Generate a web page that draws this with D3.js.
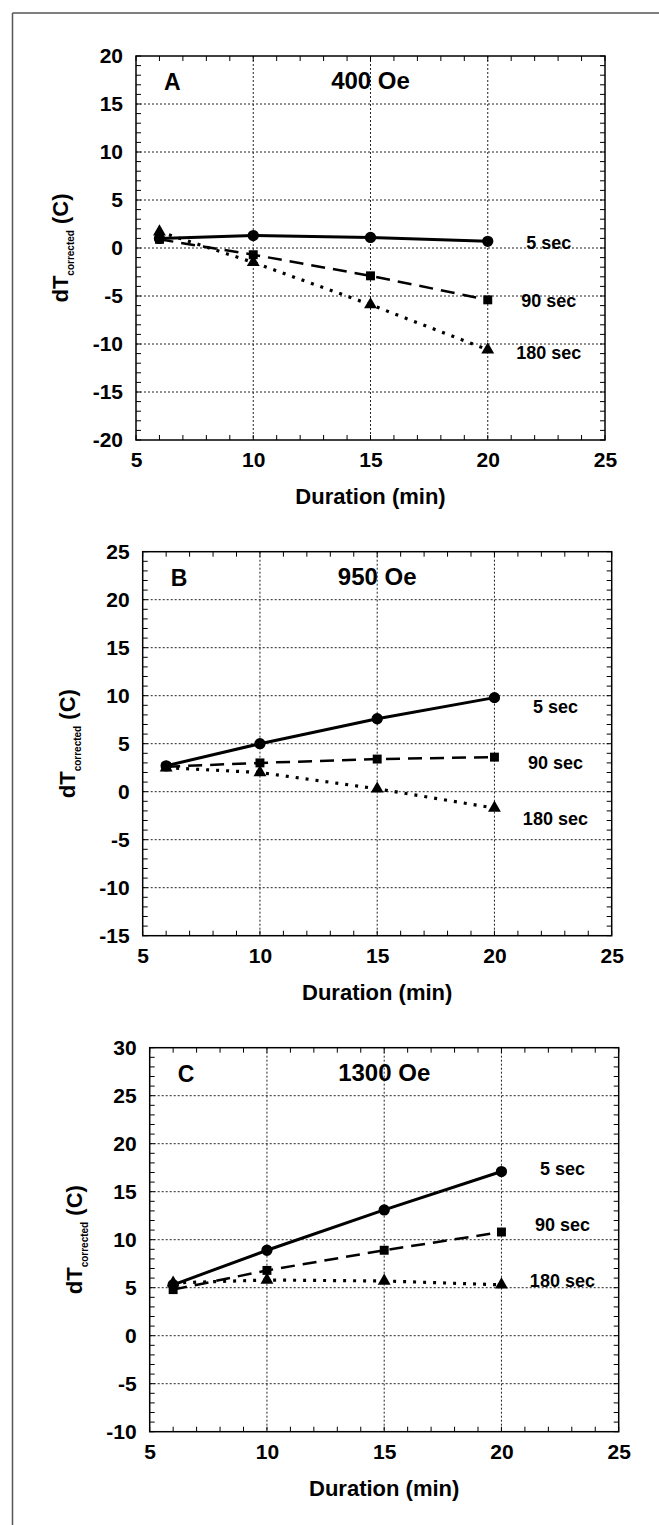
<!DOCTYPE html>
<html lang="en">
	<head>
		<meta charset="utf-8">
		<title>dT corrected vs duration</title>
		<script type="text/javascript" src="https://cdn.jsdelivr.net/npm/d3@7"></script>
		<style type="text/css">
			body { margin: 0; background: #fff; }
			text { font-family: "Liberation Sans", Arial, sans-serif; font-weight: bold; fill: #000; }
		</style>
	</head>
	<body>
		<script type="text/javascript">

			//Data
			var durations = [6, 10, 15, 20];
			var seriesNames = ["5 sec", "90 sec", "180 sec"];
			var fields = ["400 Oe", "950 Oe", "1300 Oe"];
			var panelLetters = ["A", "B", "C"];

			var valuesA = [
				[1.0, 1.3, 1.1, 0.7],
				[0.9, -0.7, -2.9, -5.4],
				[1.7, -1.5, -5.9, -10.6]
			];
			var valuesB = [
				[2.7, 5.0, 7.6, 9.8],
				[2.6, 3.0, 3.4, 3.6],
				[2.5, 2.0, 0.3, -1.7]
			];
			var valuesC = [
				[5.3, 8.9, 13.1, 17.1],
				[4.8, 6.8, 8.9, 10.8],
				[5.5, 5.8, 5.7, 5.3]
			];

			//where the series names sit (dT value)
			var labelA = [0.6, -5.5, -10.9];
			var labelB = [8.9, 3.0, -2.8];
			var labelC = [17.4, 11.6, 5.75];
			var labelDuration = 22.6;

			var xTicks = [5, 10, 15, 20, 25];
			var yTicksA = [-20, -15, -10, -5, 0, 5, 10, 15, 20];
			var yTicksB = [-15, -10, -5, 0, 5, 10, 15, 20, 25];
			var yTicksC = [-10, -5, 0, 5, 10, 15, 20, 25, 30];

			//Width and height
			var w = 659;
			var h = 1525;
			var pw = 469;
			var ph = 384;

			var svg = d3.select("body")
						.append("svg")
						.attr("width", w)
						.attr("height", h);

			//outer frame (clipped on the right and bottom)
			svg.append("line")
			   .attr("x1", 12.5).attr("y1", 13)
			   .attr("x2", w).attr("y2", 13)
			   .attr("stroke", "#555").attr("stroke-width", 1.5);
			svg.append("line")
			   .attr("x1", 12.5).attr("y1", 13)
			   .attr("x2", 12.5).attr("y2", h)
			   .attr("stroke", "#555").attr("stroke-width", 1.5);

			var lineStyles = [
				{dash: null, width: 3},
				{dash: "14,8", width: 2.5},
				{dash: "3,7", width: 3.2}
			];
			var symbols = [
				d3.symbol().type(d3.symbolCircle).size(100),
				d3.symbol().type(d3.symbolSquare).size(80),
				d3.symbol().type(d3.symbolTriangle).size(72)
			];

			var panels = [
				{left: 136, top: 56, values: valuesA, labels: labelA, yTicks: yTicksA},
				{left: 142.7, top: 551.7, values: valuesB, labels: labelB, yTicks: yTicksB},
				{left: 149.7, top: 1047.7, values: valuesC, labels: labelC, yTicks: yTicksC}
			];

			panels.forEach(function(p, pi) {

				var g = svg.append("g")
						   .attr("transform", "translate(" + p.left + "," + p.top + ")");

				var x = d3.scaleLinear().domain([5, 25]).range([0, pw]);
				var y = d3.scaleLinear()
						  .domain([p.yTicks[0], p.yTicks[p.yTicks.length - 1]])
						  .range([ph, 0]);

				//gridlines
				g.selectAll(".vgrid")
				 .data(xTicks.slice(1, -1))
				 .enter()
				 .append("line")
				 .attr("x1", function(d) { return x(d); })
				 .attr("x2", function(d) { return x(d); })
				 .attr("y1", 0).attr("y2", ph)
				 .attr("stroke", "#222").attr("stroke-width", 1)
				 .attr("stroke-dasharray", "2,2");

				g.selectAll(".hgrid")
				 .data(p.yTicks.slice(1, -1))
				 .enter()
				 .append("line")
				 .attr("y1", function(d) { return y(d); })
				 .attr("y2", function(d) { return y(d); })
				 .attr("x1", 0).attr("x2", pw)
				 .attr("stroke", "#222").attr("stroke-width", 1)
				 .attr("stroke-dasharray", "2,2");

				//minor ticks, inward on all four sides
				var xm = d3.range(5, 25.5, 1);
				var ym = d3.range(y.domain()[0], y.domain()[1] + 0.5, 1);

				g.selectAll(".xtb")
				 .data(xm)
				 .enter()
				 .append("line")
				 .attr("x1", function(d) { return x(d); })
				 .attr("x2", function(d) { return x(d); })
				 .attr("y1", ph).attr("y2", ph - 5)
				 .attr("stroke", "#000");
				g.selectAll(".xtt")
				 .data(xm)
				 .enter()
				 .append("line")
				 .attr("x1", function(d) { return x(d); })
				 .attr("x2", function(d) { return x(d); })
				 .attr("y1", 0).attr("y2", 5)
				 .attr("stroke", "#000");
				g.selectAll(".ytl")
				 .data(ym)
				 .enter()
				 .append("line")
				 .attr("y1", function(d) { return y(d); })
				 .attr("y2", function(d) { return y(d); })
				 .attr("x1", 0).attr("x2", 5)
				 .attr("stroke", "#000");
				g.selectAll(".ytr")
				 .data(ym)
				 .enter()
				 .append("line")
				 .attr("y1", function(d) { return y(d); })
				 .attr("y2", function(d) { return y(d); })
				 .attr("x1", pw).attr("x2", pw - 5)
				 .attr("stroke", "#000");

				//plot box
				g.append("rect")
				 .attr("width", pw).attr("height", ph)
				 .attr("fill", "none")
				 .attr("stroke", "#000").attr("stroke-width", 1.5);

				//axes labels
				var xAxis = g.append("g")
							 .attr("transform", "translate(0," + ph + ")")
							 .call(d3.axisBottom(x).tickValues(xTicks).tickSize(0).tickPadding(12)
								   .tickFormat(function(d) { return String(d); }));
				var yAxis = g.append("g")
							 .call(d3.axisLeft(y).tickValues(p.yTicks).tickSize(0).tickPadding(13)
								   .tickFormat(function(d) { return String(d); }));
				[xAxis, yAxis].forEach(function(a) {
					a.select(".domain").remove();
					a.selectAll("text")
					 .attr("font-family", "Liberation Sans, Arial, sans-serif")
					 .attr("font-weight", "bold")
					 .attr("font-size", 21)
					 .attr("fill", "#000");
				});

				//series lines
				var line = d3.line()
							 .x(function(d, i) { return x(durations[i]); })
							 .y(function(d) { return y(d); });

				p.values.forEach(function(vals, si) {
					g.append("path")
					 .attr("d", line(vals))
					 .attr("fill", "none")
					 .attr("stroke", "#000")
					 .attr("stroke-width", lineStyles[si].width)
					 .attr("stroke-dasharray", lineStyles[si].dash);
				});

				p.values.forEach(function(vals, si) {
					g.selectAll(".m" + si)
					 .data(vals)
					 .enter()
					 .append("path")
					 .attr("class", "m" + si)
					 .attr("d", symbols[si])
					 .attr("transform", function(d, i) {
						return "translate(" + x(durations[i]) + "," + y(d) + ")";
					 })
					 .attr("fill", "#000");
				});

				//series names
				g.selectAll(".sname")
				 .data(seriesNames)
				 .enter()
				 .append("text")
				 .attr("class", "sname")
				 .attr("x", x(labelDuration))
				 .attr("y", function(d, i) { return y(p.labels[i]); })
				 .attr("dy", "0.35em")
				 .attr("text-anchor", "middle")
				 .attr("font-size", 18)
				 .text(function(d) { return d; });

				//panel letter and field
				g.append("text")
				 .attr("x", 28)
				 .attr("y", 34)
				 .attr("font-size", 23)
				 .text(panelLetters[pi]);

				g.append("text")
				 .attr("x", pw / 2)
				 .attr("y", 33)
				 .attr("text-anchor", "middle")
				 .attr("font-size", 24)
				 .text(fields[pi]);

				//x title
				g.append("text")
				 .attr("x", pw / 2)
				 .attr("y", ph + 64)
				 .attr("text-anchor", "middle")
				 .attr("font-size", 22)
				 .text("Duration (min)");

				//y title
				var yt = g.append("text")
						  .attr("transform", "translate(-68," + (ph / 2) + ") rotate(-90)")
						  .attr("text-anchor", "middle")
						  .attr("font-size", 22);
				yt.append("tspan").text("dT");
				yt.append("tspan").attr("dy", 6).attr("font-size", 10).text("corrected");
				yt.append("tspan").attr("dy", -6).text(" (C)");
			});

		</script>
	</body>
</html>
